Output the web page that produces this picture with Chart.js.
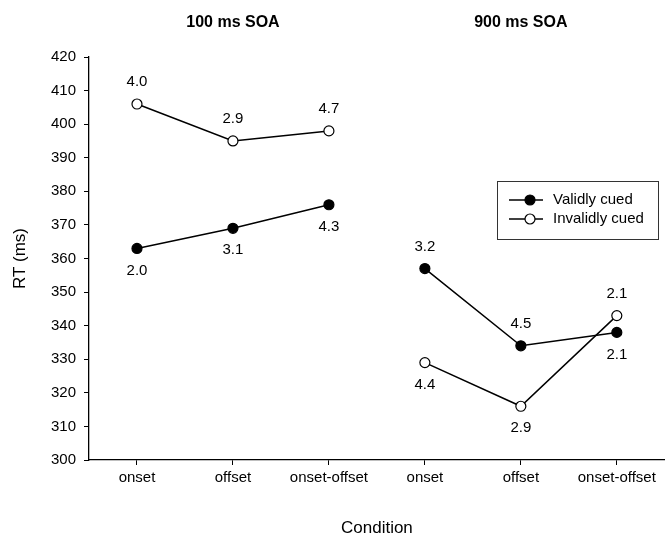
<!DOCTYPE html>
<html>
<head>
<meta charset="utf-8">
<script src="https://cdn.jsdelivr.net/npm/chart.js@4.4.0/dist/chart.umd.min.js"></script>
<style>
  html, body { margin: 0; padding: 0; background: #fff; }
  #wrap { width: 671px; height: 539px; }
</style>
</head>
<body>
<div id="wrap"><canvas id="rt-chart" width="671" height="539"></canvas></div>
<script>
const conditions = ['onset', 'offset', 'onset-offset', 'onset', 'offset', 'onset-offset'];
const groupTitles = ['100 ms SOA', '900 ms SOA'];
const groupSize = 3;
const validRT = [363, 369, 376, 357, 334, 338];
const invalidRT = [406, 395, 398, 329, 316, 343];
const validSD = ['2.0', '3.1', '4.3', '3.2', '4.5', '2.1'];
const invalidSD = ['4.0', '2.9', '4.7', '4.4', '2.9', '2.1'];
const yTicks = [300, 310, 320, 330, 340, 350, 360, 370, 380, 390, 400, 410, 420];

Chart.defaults.font.family = '"Liberation Sans", Arial, sans-serif';
Chart.defaults.color = '#000';

// break the line between the two SOA groups
const gapSegment = {
    borderColor: ctx => ((ctx.p0DataIndex + 1) % groupSize === 0 ? 'rgba(0,0,0,0)' : '#000')
};

// numbers next to each point: above if the series is the higher one at that condition
const valueLabels = {
    id: 'valueLabels',
    afterDatasetsDraw(chart) {
        const ctx = chart.ctx;
        const sds = [validSD, invalidSD];
        ctx.save();
        ctx.font = '15px "Liberation Sans", Arial, sans-serif';
        ctx.fillStyle = '#000';
        ctx.textAlign = 'center';
        ctx.textBaseline = 'middle';
        chart.data.datasets.forEach((ds, di) => {
            const other = chart.data.datasets[1 - di].data;
            chart.getDatasetMeta(di).data.forEach((pt, i) => {
                const above = ds.data[i] > other[i];
                ctx.fillText(sds[di][i], pt.x, pt.y + (above ? -22 : 22));
            });
        });
        ctx.restore();
    }
};

const groupHeaders = {
    id: 'groupHeaders',
    afterDraw(chart) {
        const ctx = chart.ctx;
        const x = chart.scales.x;
        ctx.save();
        ctx.font = 'bold 16px "Liberation Sans", Arial, sans-serif';
        ctx.fillStyle = '#000';
        ctx.textAlign = 'center';
        ctx.textBaseline = 'middle';
        groupTitles.forEach((t, g) => {
            ctx.fillText(t, x.getPixelForValue(g * groupSize + 1), 23);
        });
        ctx.restore();
    }
};

const boxLegend = {
    id: 'boxLegend',
    afterDraw(chart) {
        const ctx = chart.ctx;
        const bx = 497, by = 181, bw = 161, bh = 58;
        ctx.save();
        ctx.strokeStyle = '#333';
        ctx.lineWidth = 1;
        ctx.strokeRect(bx + 0.5, by + 0.5, bw, bh);
        ctx.font = '15px "Liberation Sans", Arial, sans-serif';
        ctx.textAlign = 'left';
        ctx.textBaseline = 'middle';
        chart.data.datasets.forEach((ds, i) => {
            const y = by + 19 + i * 19;
            ctx.strokeStyle = '#000';
            ctx.lineWidth = 1.5;
            ctx.beginPath();
            ctx.moveTo(bx + 12, y);
            ctx.lineTo(bx + 46, y);
            ctx.stroke();
            ctx.beginPath();
            ctx.arc(bx + 33, y, 5, 0, Math.PI * 2);
            ctx.fillStyle = ds.pointBackgroundColor;
            ctx.fill();
            ctx.lineWidth = 1.2;
            ctx.stroke();
            ctx.fillStyle = '#000';
            ctx.fillText(ds.label, bx + 56, y);
        });
        ctx.restore();
    }
};

new Chart(document.getElementById('rt-chart'), {
    type: 'line',
    data: {
        labels: conditions,
        datasets: [{
            label: 'Validly cued',
            data: validRT,
            borderColor: '#000',
            borderWidth: 1.5,
            pointRadius: 5,
            pointBorderWidth: 1.2,
            pointBackgroundColor: '#000',
            pointBorderColor: '#000',
            segment: gapSegment,
            tension: 0
        }, {
            label: 'Invalidly cued',
            data: invalidRT,
            borderColor: '#000',
            borderWidth: 1.5,
            pointRadius: 5,
            pointBorderWidth: 1.2,
            pointBackgroundColor: '#fff',
            pointBorderColor: '#000',
            segment: gapSegment,
            tension: 0
        }]
    },
    options: {
        responsive: false,
        animation: false,
        layout: { padding: { top: 57, right: 0, bottom: 0, left: 0 } },
        plugins: {
            legend: { display: false },
            tooltip: { enabled: false }
        },
        scales: {
            x: {
                offset: true,
                grid: { drawOnChartArea: false, drawTicks: true, tickLength: 5, color: '#000', offset: false },
                border: { color: '#000', width: 1.3 },
                ticks: { font: { size: 15 }, color: '#000', padding: 4, maxRotation: 0, autoSkip: false },
                title: { display: true, text: 'Condition', font: { size: 17 }, color: '#000', padding: { top: 0, bottom: 0 } },
                afterFit: s => { s.height = 79; }
            },
            y: {
                min: yTicks[0],
                max: yTicks[yTicks.length - 1],
                afterBuildTicks: s => { s.ticks = yTicks.map(v => ({ value: v })); },
                grid: { drawOnChartArea: false, drawTicks: true, tickLength: 5, color: '#000' },
                border: { color: '#000', width: 1.3 },
                ticks: { font: { size: 15 }, color: '#000', padding: 8 },
                title: { display: true, text: 'RT (ms)', font: { size: 17 }, color: '#000', padding: { top: 10, bottom: 0 } },
                afterFit: s => { s.width = 89; }
            }
        }
    },
    plugins: [valueLabels, groupHeaders, boxLegend]
});
</script>
</body>
</html>
